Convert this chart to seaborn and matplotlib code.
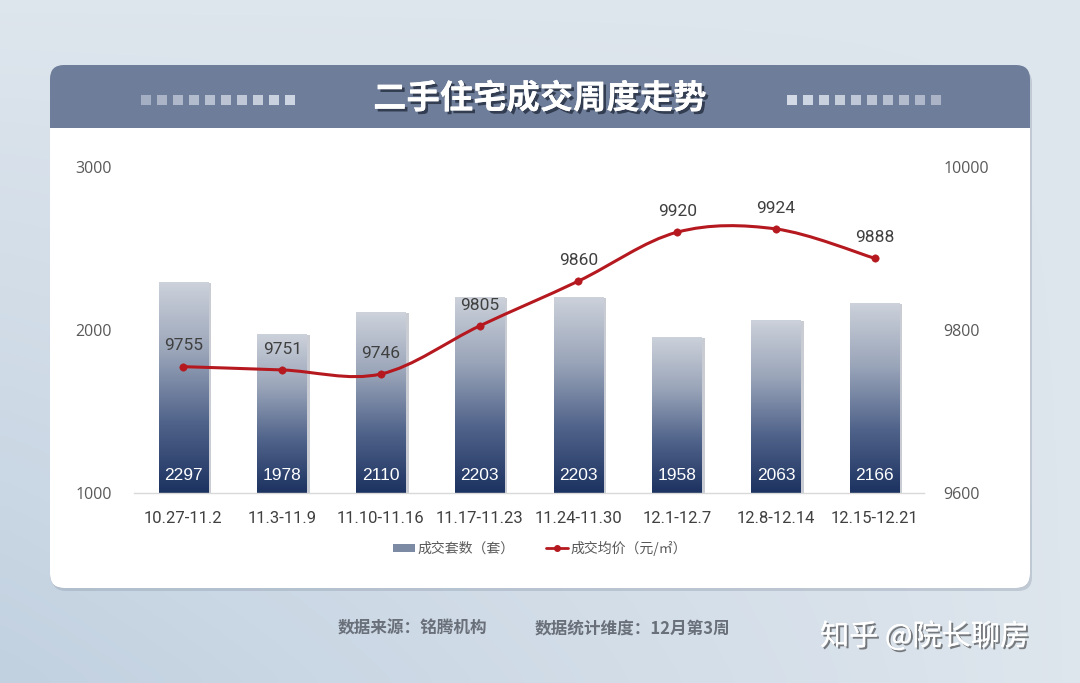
import numpy as np
import pandas as pd
import matplotlib
matplotlib.use('Agg')
import matplotlib.pyplot as plt
import seaborn as sns
from matplotlib.patches import FancyBboxPatch, Rectangle, PathPatch, Patch
from matplotlib.path import Path
from matplotlib.lines import Line2D
import matplotlib.patheffects as pe
from matplotlib.colors import LinearSegmentedColormap

# ---------------- data ----------------
weeks = ["10.27-11.2", "11.3-11.9", "11.10-11.16", "11.17-11.23",
         "11.24-11.30", "12.1-12.7", "12.8-12.14", "12.15-12.21"]
counts = [2297, 1978, 2110, 2203, 2203, 1958, 2063, 2166]
prices = [9755, 9751, 9746, 9805, 9860, 9920, 9924, 9888]
count_ticks = [1000, 2000, 3000]
price_ticks = [9600, 9800, 10000]
title = "二手住宅成交周度走势"
legend_labels = ["成交套数（套）", "成交均价（元/㎡）"]
source_text = "数据来源：铭腾机构"
period_text = "数据统计维度：12月第3周"
credit_text = "知乎 @院长聊房"

sns.set_theme(style="white")
plt.rcParams['font.family'] = ['Noto Sans CJK SC', 'DejaVu Sans']
NARROW = ['Roboto', 'DejaVu Sans']

W, H = 1080, 683
fig = plt.figure(figsize=(W / 100, H / 100), dpi=100)

# ---------------- background ----------------
bg = fig.add_axes([0, 0, 1, 1], zorder=0)
bg.set_xlim(0, W)
bg.set_ylim(H, 0)
bg.axis('off')
gh, gw = 69, 108
yy, xx = np.mgrid[0:1:gh * 1j, 0:1:gw * 1j]
c_top = np.array([0.87, 0.90, 0.93])
c_bl = np.array([0.76, 0.82, 0.88])
c_br = np.array([0.87, 0.90, 0.93])
t = yy[..., None]
bottom = c_bl * (1 - xx[..., None]) + c_br * xx[..., None]
img = c_top * (1 - t) + bottom * t
bg.imshow(img, extent=[0, W, H, 0], aspect='auto', zorder=0, interpolation='bicubic')

# card shadow, header and body
bg.add_patch(FancyBboxPatch((52, 69), 980, 522, boxstyle="round,pad=0,rounding_size=14",
                            fc='#8a97a8', ec='none', alpha=0.35, zorder=1))
bg.add_patch(FancyBboxPatch((50, 65), 980, 523, boxstyle="round,pad=0,rounding_size=14",
                            fc='#6E7D99', ec='none', zorder=2))
bg.add_patch(Rectangle((50, 128), 980, 420, fc='white', ec='none', zorder=3))
bg.add_patch(FancyBboxPatch((50, 128), 980, 460, boxstyle="round,pad=0,rounding_size=14",
                            fc='white', ec='none', zorder=3))

# header decorations
for i in range(10):
    a = 0.55 + 0.045 * i
    bg.add_patch(Rectangle((141 + i * 16, 95), 10, 10, fc='#D3DAE6', ec='none', alpha=a, zorder=4))
for i in range(10):
    a = 1.0 - 0.045 * i
    bg.add_patch(Rectangle((787 + i * 16, 95), 10, 10, fc='#D3DAE6', ec='none', alpha=a, zorder=4))

bg.text(540, 99, title, ha='center', va='center', fontsize=24, fontweight='bold', color='white',
        zorder=5, path_effects=[pe.withSimplePatchShadow(offset=(2, -2), shadow_rgbFace='#1a2233', alpha=0.7),
                                pe.Normal()])

# ---------------- main axes ----------------
ax = fig.add_axes([134 / W, 1 - 493 / H, 790 / W, 326 / H], zorder=2)
ax.patch.set_alpha(0)
df = pd.DataFrame({'week': weeks, 'count': counts})
sns.barplot(data=df, x='week', y='count', ax=ax, width=0.5, color='#7C8AA3', saturation=1)

cmap = LinearSegmentedColormap.from_list('bar', ['#1C3260', '#50638A', '#9AA5B9', '#CDD2DB'])
grad = np.linspace(0, 1, 256).reshape(-1, 1)
for p, v in zip(ax.patches, counts):
    x0, w, h = p.get_x(), p.get_width(), p.get_height()
    p.set_facecolor('none')
    p.set_edgecolor('none')
    ax.add_patch(Rectangle((x0 + w, 1000), 0.03, h - 1000 - 8, fc='#C9CDD3', ec='none', zorder=1.5))
    im = ax.imshow(grad, extent=[x0, x0 + w, 1000, h], origin='lower', cmap=cmap,
                   aspect='auto', zorder=2, interpolation='bilinear')
    im.set_clip_path(p)
    ax.text(x0 + w / 2, 1105, f"{v}", ha='center', va='center', color='white',
            fontsize=12.5, family=['Liberation Sans', 'DejaVu Sans'], zorder=3)

ax.set_xlim(-0.5, 7.5)
ax.set_ylim(1000, 3000)
ax.set_yticks(count_ticks)
ax.set_xlabel('')
ax.set_ylabel('')
for s in ['left', 'right', 'top']:
    ax.spines[s].set_visible(False)
ax.spines['bottom'].set_color('#D9D9D9')
ax.spines['bottom'].set_linewidth(1)
ax.tick_params(axis='y', length=0, pad=16, labelsize=11.5, labelcolor='#595959')
ax.tick_params(axis='x', length=0, pad=13, labelsize=12, labelcolor='#404040')
for lab in ax.get_xticklabels():
    lab.set_family(NARROW)
for lab in ax.get_yticklabels():
    lab.set_family(['Open Sans', 'DejaVu Sans'])

# ---------------- price line ----------------
ax2 = ax.twinx()
ax2.set_zorder(3)
ax2.patch.set_visible(False)
ax2.set_ylim(9600, 10000)
ax2.set_yticks(price_ticks)
for s in ax2.spines.values():
    s.set_visible(False)
ax2.tick_params(axis='y', length=0, pad=14, labelsize=11.5, labelcolor='#595959')
for lab in ax2.get_yticklabels():
    lab.set_family(['Open Sans', 'DejaVu Sans'])

xs = np.arange(len(prices), dtype=float)
P = np.column_stack([xs, np.array(prices, dtype=float)])
verts = [tuple(P[0])]
codes = [Path.MOVETO]
n = len(P)
for i in range(n - 1):
    p0 = P[i - 1] if i > 0 else P[i]
    p1, p2 = P[i], P[i + 1]
    p3 = P[i + 2] if i + 2 < n else P[i + 1]
    c1 = p1 + (p2 - p0) / 6.0
    c2 = p2 - (p3 - p1) / 6.0
    verts += [tuple(c1), tuple(c2), tuple(p2)]
    codes += [Path.CURVE4] * 3
RED = '#B5191F'
ax2.add_patch(PathPatch(Path(verts, codes), fill=False, ec=RED, lw=2.2, zorder=3))
sns.scatterplot(x=xs, y=prices, ax=ax2, s=28, color=RED, edgecolor=RED, zorder=4, legend=False)
ax2.set_ylabel('')
for xi, pv in zip(xs, prices):
    ax2.annotate(f"{pv}", (xi, pv), xytext=(0, 15), textcoords='offset points', ha='center',
                 va='center', fontsize=12.5, color='#404040', family=NARROW, zorder=5)
ax.set_xlim(-0.5, 7.5)

# ---------------- legend ----------------
handles = [Patch(fc='#7C8AA3', ec='none'),
           Line2D([], [], color=RED, lw=2, marker='o', ms=4)]
fig.legend(handles, legend_labels, loc='center', bbox_to_anchor=(0.5, 1 - 548 / H), ncol=2,
           frameon=False, fontsize=10, labelcolor='#595959', handlelength=1.6,
           handleheight=0.5, columnspacing=2.2, handletextpad=0.2)

# ---------------- footer ----------------
fig.text(338 / W, 1 - 628 / H, source_text, ha='left', va='center', fontsize=12,
         fontweight='bold', color='#6A707A')
fig.text(535 / W, 1 - 628 / H, period_text, ha='left', va='center', fontsize=12,
         fontweight='bold', color='#6A707A')
fig.text(820 / W, 1 - 637 / H, credit_text, ha='left', va='center', fontsize=21, color='white',
         path_effects=[pe.withSimplePatchShadow(offset=(1.5, -1.5), shadow_rgbFace='#333', alpha=0.6),
                       pe.Normal()])

fig.savefig('out.png', dpi=100)
